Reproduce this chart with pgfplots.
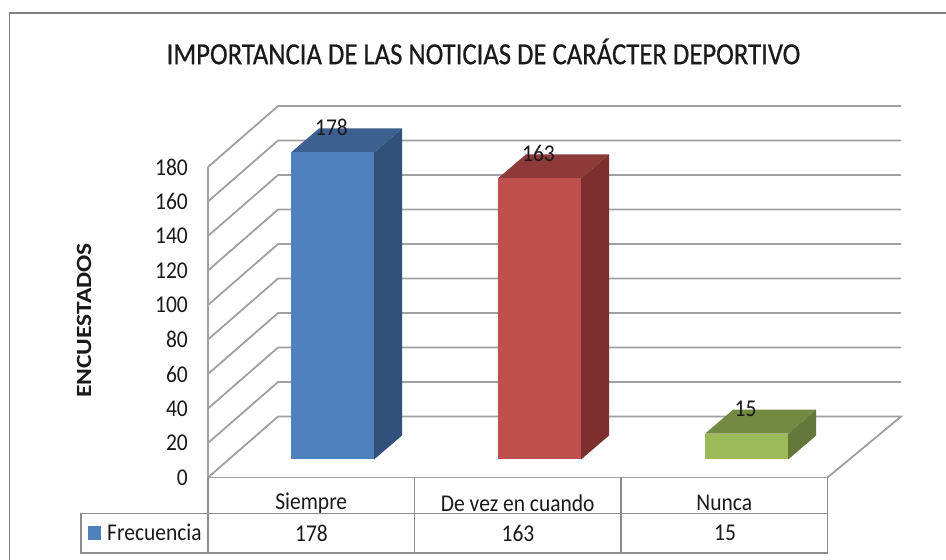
\documentclass[border=0pt]{standalone}
\usepackage{fontspec}
\setmainfont{Carlito}
\newfontfamily\titlefont[FakeBold=0.6]{Carlito}
\usepackage{pgfplots}
\pgfplotsset{compat=1.18}
\definecolor{gridc}{HTML}{A0A0A0}
\definecolor{tablec}{HTML}{8C8C8C}
\definecolor{txt}{HTML}{1A1A1A}
\definecolor{blueF}{HTML}{4F81BD}
\definecolor{blueT}{HTML}{3C6090}
\definecolor{blueS}{HTML}{31507A}
\definecolor{redF}{HTML}{C0504D}
\definecolor{redT}{HTML}{8E3A38}
\definecolor{redS}{HTML}{7B302E}
\definecolor{greenF}{HTML}{9BBB59}
\definecolor{greenT}{HTML}{738A42}
\definecolor{greenS}{HTML}{637839}
\begin{document}
\begin{tikzpicture}[x=1pt,y=1pt]
\path[use as bounding box] (0,0) rectangle (946,560);
\fill[white] (0,0) rectangle (946,560);
% chart frame
\draw[gridc!80!black,line width=1.8pt] (9.5,0) -- (9.5,547) -- (946,547);
% title and axis title
\node[font=\fontsize{26.7}{30}\titlefont,text=txt,inner sep=0pt,yscale=1.15] at (483.5,508.5) {IMPORTANCIA DE LAS NOTICIAS DE CARÁCTER DEPORTIVO};
\node[font=\fontsize{25.5}{28}\selectfont\bfseries,text=txt,rotate=90,inner sep=0pt,yscale=0.85] at (84,239.5) {ENCUESTADOS};
\begin{axis}[
  name=main,
  at={(208pt,82.5pt)},anchor=south west,
  scale only axis,width=619.5pt,height=310.5pt,
  xmin=0,xmax=3,ymin=0,ymax=180,
  clip=false,
  axis x line*=bottom,axis y line*=left,
  axis line style={draw=gridc,line width=1.8pt,-},
  xtick={0.5,1.5,2.5},
  xticklabels={Siempre,De vez en cuando,Nunca},
  ytick={0,20,...,180},
  tick style={draw=none},
  /pgf/number format/assume math mode=true,
  tick label style={font=\fontsize{21.5}{24}\selectfont,text=txt,yscale=1.12},
  yticklabel style={inner sep=0pt,xshift=-20pt},
  xticklabel style={inner sep=0pt,anchor=center,yshift=-23pt},
  nodes near coords style={font=\fontsize{21.5}{24}\selectfont,text=txt,anchor=center,yshift=25pt,xshift=-1pt,yscale=1.12},
]
% walls and floor
\addplot[gridc,line width=1.8pt] coordinates {(3,0)(3.356,35.33)(0.339,35.33)(0,0)};
\addplot[gridc,line width=1.8pt] coordinates {(0,20)(0.339,55.33)(3.356,55.33)};
\addplot[gridc,line width=1.8pt] coordinates {(0,40)(0.339,75.33)(3.356,75.33)};
\addplot[gridc,line width=1.8pt] coordinates {(0,60)(0.339,95.33)(3.356,95.33)};
\addplot[gridc,line width=1.8pt] coordinates {(0,80)(0.339,115.33)(3.356,115.33)};
\addplot[gridc,line width=1.8pt] coordinates {(0,100)(0.339,135.33)(3.356,135.33)};
\addplot[gridc,line width=1.8pt] coordinates {(0,120)(0.339,155.33)(3.356,155.33)};
\addplot[gridc,line width=1.8pt] coordinates {(0,140)(0.339,175.33)(3.356,175.33)};
\addplot[gridc,line width=1.8pt] coordinates {(0,160)(0.339,195.33)(3.356,195.33)};
\addplot[gridc,line width=1.8pt] coordinates {(0,180)(0.339,215.33)(3.356,215.33)};
% Siempre
\addplot[fill=blueT,draw=none,xshift=21.25pt,yshift=18pt] coordinates {(0.299,178)(0.701,178)(0.8366,191.9)(0.4346,191.9)} --cycle;
\addplot[fill=blueS,draw=none,xshift=21.25pt,yshift=18pt] coordinates {(0.701,0)(0.8366,13.9)(0.8366,191.9)(0.701,178)} --cycle;
\addplot[ybar,bar width=83pt,bar shift=0pt,fill=blueF,draw=none,xshift=21.25pt,yshift=18pt,nodes near coords] coordinates {(0.5,178)};
% De vez en cuando
\addplot[fill=redT,draw=none,xshift=21.75pt,yshift=18pt] coordinates {(1.299,163)(1.701,163)(1.8366,176.9)(1.4346,176.9)} --cycle;
\addplot[fill=redS,draw=none,xshift=21.75pt,yshift=18pt] coordinates {(1.701,0)(1.8366,13.9)(1.8366,176.9)(1.701,163)} --cycle;
\addplot[ybar,bar width=83pt,bar shift=0pt,fill=redF,draw=none,xshift=21.75pt,yshift=18pt,nodes near coords] coordinates {(1.5,163)};
% Nunca
\addplot[fill=greenT,draw=none,xshift=22.35pt,yshift=18pt] coordinates {(2.299,15)(2.701,15)(2.8366,28.9)(2.4346,28.9)} --cycle;
\addplot[fill=greenS,draw=none,xshift=22.35pt,yshift=18pt] coordinates {(2.701,0)(2.8366,13.9)(2.8366,28.9)(2.701,15)} --cycle;
\addplot[ybar,bar width=83pt,bar shift=0pt,fill=greenF,draw=none,xshift=22.35pt,yshift=18pt,nodes near coords] coordinates {(2.5,15)};
\end{axis}
% data table
\draw[tablec,line width=1.8pt] (81,46.5) -- (827.5,46.5);
\draw[tablec,line width=1.8pt] (81,46.5) -- (81,7) -- (827.5,7);
\draw[tablec,line width=1.8pt] (208,82.5) -- (208,7);
\draw[tablec,line width=1.8pt] (414.5,82.5) -- (414.5,7);
\draw[tablec,line width=1.8pt] (621,82.5) -- (621,7);
\draw[tablec,line width=1.8pt] (827.5,82.5) -- (827.5,7);
\fill[blueF] (88,20) rectangle (101,34);
\node[font=\fontsize{21.5}{24}\selectfont,text=txt,anchor=west,inner sep=0pt,yscale=1.12] at (107,27.5) {Frecuencia};
\node[font=\fontsize{21.5}{24}\selectfont,text=txt,inner sep=0pt,yscale=1.12] at (311.5,27) {178};
\node[font=\fontsize{21.5}{24}\selectfont,text=txt,inner sep=0pt,yscale=1.12] at (518,27) {163};
\node[font=\fontsize{21.5}{24}\selectfont,text=txt,inner sep=0pt,yscale=1.12] at (725,27) {15};
\end{tikzpicture}
\end{document}
